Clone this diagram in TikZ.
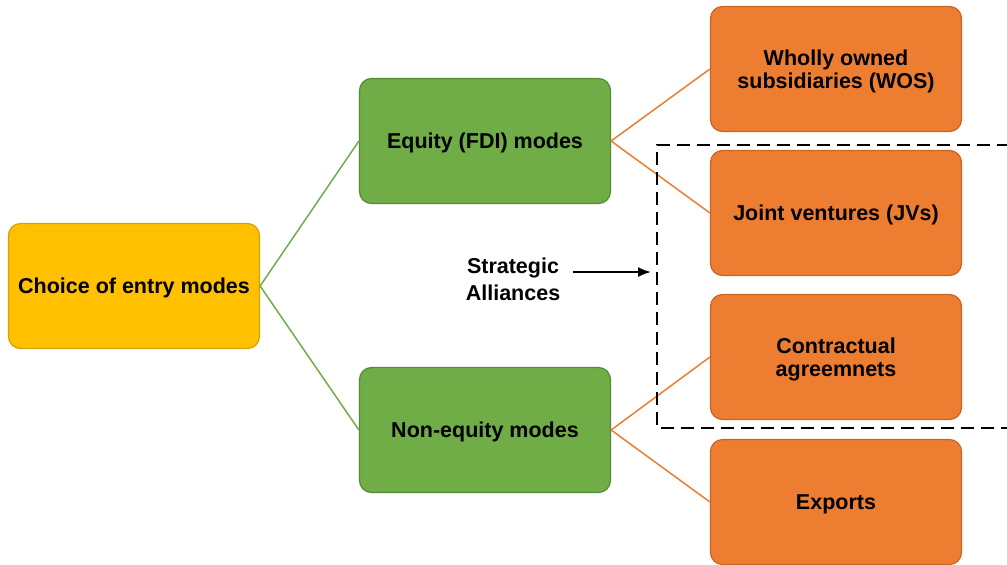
\documentclass[tikz,border=0pt]{standalone}
\usepackage{fontspec}
\setmainfont{Liberation Sans}
\usetikzlibrary{arrows.meta}

\definecolor{rootfill}{HTML}{FFC000}
\definecolor{rootline}{HTML}{D4A10A}
\definecolor{midfill}{HTML}{70AD47}
\definecolor{midline}{HTML}{548A35}
\definecolor{leaffill}{HTML}{ED7D31}
\definecolor{leafline}{HTML}{C9651F}

\begin{document}
\begin{tikzpicture}[x=1pt, y=-1pt,
    modebox/.style={draw, rounded corners=12pt, line width=1.2pt,
        minimum width=251pt, minimum height=125pt, align=center, text depth=0pt,
        font=\fontsize{21.5}{23}\selectfont\bfseries},
    root/.style={modebox, fill=rootfill, draw=rootline},
    mid/.style={modebox, fill=midfill, draw=midline},
    leaf/.style={modebox, fill=leaffill, draw=leafline},
    greenlink/.style={draw=midfill, line width=1.5pt},
    orangelink/.style={draw=leaffill, line width=1.5pt}]
    \useasboundingbox (0, 0) rectangle (1007, 565);

    % boxes
    \node [root] (choice) at (134, 286) {Choice of entry modes};
    \node [mid] (equity) at (485, 141) {Equity (FDI) modes};
    \node [mid] (nonequity) at (485, 430) {Non-equity modes};
    \node [leaf] (wos) at (836, 69) {Wholly owned\\subsidiaries (WOS)};
    \node [leaf] (jv) at (836, 213) {Joint ventures (JVs)};
    \node [leaf] (contract) at (836, 357) {Contractual\\agreemnets};
    \node [leaf] (exports) at (836, 502) {Exports};

    % links
    \draw [greenlink] (choice.east) -- (equity.west);
    \draw [greenlink] (choice.east) -- (nonequity.west);
    \draw [orangelink] (equity.east) -- (wos.west);
    \draw [orangelink] (equity.east) -- (jv.west);
    \draw [orangelink] (nonequity.east) -- (contract.west);
    \draw [orangelink] (nonequity.east) -- (exports.west);

    % strategic alliances
    \coordinate (alltop) at (657, 145);
    \coordinate (allbot) at (657, 428);
    \draw [line width=2pt, dash pattern=on 13pt off 7pt]
        (1010, 145) -- (alltop) -- (allbot) -- (1010, 428);
    \node [align=center, font=\fontsize{21.5}{27}\selectfont\bfseries] (alliance) at (513, 279) {Strategic\\Alliances};
    \coordinate (alltip) at (651, 272);
    \draw [-{Latex[length=13pt, width=10pt]}, line width=1.8pt] (573, 272) -- (alltip);
\end{tikzpicture}
\end{document}
